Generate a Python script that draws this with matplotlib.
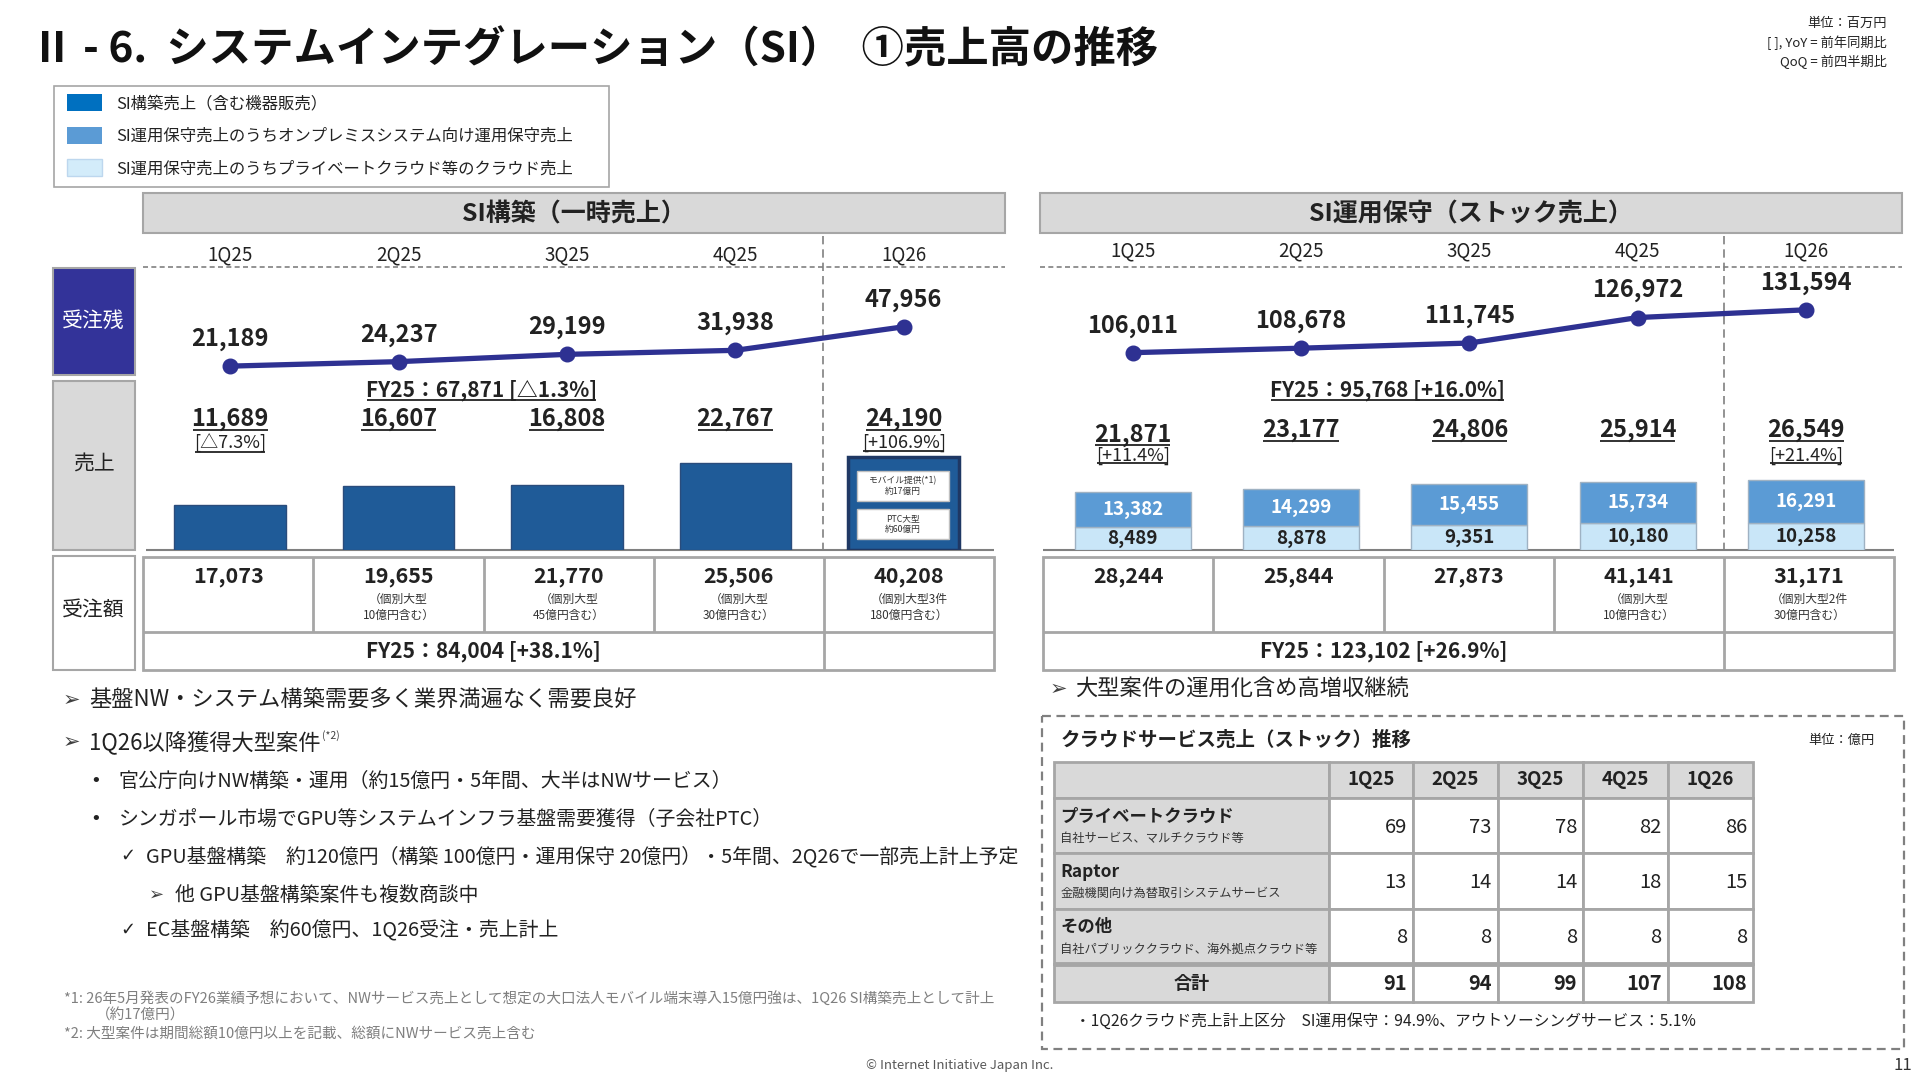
import matplotlib
matplotlib.use('Agg')
import matplotlib.pyplot as plt
from matplotlib.patches import Rectangle

plt.rcParams['font.family'] = ['Noto Sans CJK JP', 'DejaVu Sans']

# ---------------- data ----------------
quarters = ['1Q25', '2Q25', '3Q25', '4Q25', '1Q26']

si_backlog = [21189, 24237, 29199, 31938, 47956]
si_sales = [11689, 16607, 16808, 22767, 24190]
si_sales_yoy = ['[△7.3%]', '', '', '', '[+106.9%]']
si_orders = [17073, 19655, 21770, 25506, 40208]
si_orders_note = ['', '（個別大型\n10億円含む）', '（個別大型\n45億円含む）',
                  '（個別大型\n30億円含む）', '（個別大型3件\n180億円含む）']
si_fy25_sales = 'FY25：67,871 [△1.3%]'
si_fy25_orders = 'FY25：84,004 [+38.1%]'
si_inset_notes = ['モバイル提供(*1)\n約17億円', 'PTC大型\n約60億円']

om_backlog = [106011, 108678, 111745, 126972, 131594]
om_onprem = [13382, 14299, 15455, 15734, 16291]
om_cloud = [8489, 8878, 9351, 10180, 10258]
om_sales = [21871, 23177, 24806, 25914, 26549]
om_sales_yoy = ['[+11.4%]', '', '', '', '[+21.4%]']
om_orders = [28244, 25844, 27873, 41141, 31171]
om_orders_note = ['', '', '', '（個別大型\n10億円含む）', '（個別大型2件\n30億円含む）']
om_fy25_sales = 'FY25：95,768 [+16.0%]'
om_fy25_orders = 'FY25：123,102 [+26.9%]'

legend_labels = ['SI構築売上（含む機器販売）',
                 'SI運用保守売上のうちオンプレミスシステム向け運用保守売上',
                 'SI運用保守売上のうちプライベートクラウド等のクラウド売上']

cloud_rows = ['プライベートクラウド', 'Raptor', 'その他']
cloud_subs = ['自社サービス、マルチクラウド等', '金融機関向け為替取引システムサービス',
              '自社パブリッククラウド、海外拠点クラウド等']
cloud_private = [69, 73, 78, 82, 86]
cloud_raptor = [13, 14, 14, 18, 15]
cloud_other = [8, 8, 8, 8, 8]
cloud_total = [91, 94, 99, 107, 108]

# ---------------- colors ----------------
C_SI = '#1F5B98'
C_ONPREM = '#5B9BD5'
C_CLOUD = '#C9E6F8'
C_LINE = '#2E3192'
C_NAVY = '#333399'
C_GRAY = '#D9D9D9'
C_EDGE = '#A6A6A6'
C_TXT = '#222222'

# ---------------- canvas ----------------
W = 1568.0
H = 1081.0 * 1568.0 / 1920.0
fig = plt.figure(figsize=(19.2, 10.81), dpi=100)
ax = fig.add_axes([0, 0, 1, 1], zorder=0)
ax.set_xlim(0, W)
ax.set_ylim(H, 0)
ax.axis('off')
renderer = fig.canvas.get_renderer()
underlined = []


def T(x, y, s, size=12, weight='normal', color=C_TXT, ha='left', va='center', **kw):
    return ax.text(x, y, s, fontsize=size, fontweight=weight, color=color,
                   ha=ha, va=va, **kw)


def R(x0, y0, x1, y1, fc='none', ec=C_EDGE, lw=1.5, ls='-', z=1):
    ax.add_patch(Rectangle((x0, y0), x1 - x0, y1 - y0, facecolor=fc, edgecolor=ec,
                           linewidth=lw, linestyle=ls, zorder=z))


def L(xs, ys, color=C_EDGE, lw=1.5, ls='-', z=2):
    ax.plot(xs, ys, color=color, lw=lw, ls=ls, zorder=z, solid_capstyle='butt')


def rect_axes(x0, y0, x1, y1, z):
    a = fig.add_axes([x0 / W, 1 - y1 / H, (x1 - x0) / W, (y1 - y0) / H], zorder=z)
    a.patch.set_alpha(0)
    a.axis('off')
    return a


# ---------------- title & notes ----------------
T(25, 41, 'Ⅱ - 6.  システムインテグレーション（SI）  ①売上高の推移', 30.5, 'bold', '#111111')
T(1541, 19, '単位：百万円', 9.5, ha='right')
T(1541, 35, '[ ], YoY = 前年同期比', 9.5, ha='right')
T(1541, 51, 'QoQ = 前四半期比', 9.5, ha='right')

# legend
R(44, 70, 497, 153, fc='white', ec=C_EDGE, lw=1.2)
for k, (lab, col) in enumerate(zip(legend_labels, ['#0070C0', C_ONPREM, '#D3ECFA'])):
    yy = 84 + 26.5 * k
    R(55, yy - 7, 83, yy + 7, fc=col, ec='#BDD7EE' if k == 2 else 'none', lw=1)
    T(95, yy + 1, lab, 11.8)

# panel headers
R(117, 158, 821, 190, fc=C_GRAY, ec=C_EDGE)
T(469, 175, 'SI構築（一時売上）', 18, 'bold', ha='center')
R(849, 158, 1553, 190, fc=C_GRAY, ec=C_EDGE)
T(1201, 175, 'SI運用保守（ストック売上）', 18, 'bold', ha='center')

D = 137.5
L_C0, R_C0 = 188.0, 925.0

# quarter labels & dashed guide lines
for i, q in enumerate(quarters):
    T(L_C0 + D * i, 208, q, 13.5, ha='center')
    T(R_C0 + D * i, 205, q, 13.5, ha='center')
L([117, 821], [218, 218], '#808080', 1.2, (0, (3, 2)))
L([849, 1553], [218, 218], '#808080', 1.2, (0, (3, 2)))
L([672, 672], [193, 451], '#808080', 1.2, (0, (5, 3)))
L([1408, 1408], [193, 451], '#808080', 1.2, (0, (5, 3)))

# row label boxes (left)
R(43, 219, 110, 306, fc=C_NAVY, ec=C_EDGE)
T(76.5, 262, '受注残', 15, color='white', ha='center')
R(43, 311, 110, 449, fc=C_GRAY, ec=C_EDGE)
T(76.5, 379, '売上', 15, ha='center')
R(43, 454, 110, 547, fc='white', ec=C_EDGE)
T(76.5, 498, '受注額', 15, ha='center')

# baselines
L([119, 812], [449.5, 449.5], '#808080', 1.5)
L([852, 1547], [449.5, 449.5], '#808080', 1.5)

xs = list(range(len(quarters)))


def cat_xlim(x0, x1, c0):
    return ((x0 - c0) / D, (x1 - c0) / D)


# ---------------- SI construction bars ----------------
axL = rect_axes(117, 219, 812, 449, 2)
axL.set_xlim(*cat_xlim(117, 812, L_C0))
axL.set_ylim(0, (449 - 219) / 0.00313)
bars = axL.bar(xs, si_sales, width=0.662, color=C_SI, edgecolor='#2A4C7C', linewidth=1)
bars[-1].set_edgecolor('#1F3864')
bars[-1].set_linewidth(2.5)
for k, note in enumerate(si_inset_notes):
    y0 = 385 + 31 * k
    axL.add_patch(Rectangle((700, y0), 75, 24, facecolor='white', edgecolor='#BFBFBF',
                            linewidth=1, transform=ax.transData, clip_on=False, zorder=5))
    axL.text(737.5, y0 + 12, note, fontsize=6.3, ha='center', va='center', color='#333333',
             linespacing=1.25, transform=ax.transData, zorder=6)

# backlog line (left)
axLL = rect_axes(117, 219, 812, 449, 3)
axLL.set_xlim(*cat_xlim(117, 812, L_C0))
axLL.set_ylim(21189 + (299 - 449) / 0.0012, 21189 + (299 - 219) / 0.0012)
axLL.plot(xs, si_backlog, color=C_LINE, lw=3.8, marker='o', ms=10.5,
          solid_capstyle='round', zorder=3)
for i, v in enumerate(si_backlog):
    axLL.annotate(f'{v:,}', (i, v), xytext=(0, 19.5), textcoords='offset points',
                  ha='center', va='center', fontsize=17, fontweight='bold', color=C_TXT)

# ---------------- SI operation stacked bars ----------------
axR = rect_axes(852, 219, 1547, 449, 2)
axR.set_xlim(*cat_xlim(852, 1547, R_C0))
axR.set_ylim(0, (449 - 219) / 0.00215)
axR.bar(xs, om_cloud, width=0.69, color=C_CLOUD, edgecolor='#9FB2C3', linewidth=1)
axR.bar(xs, om_onprem, width=0.69, bottom=om_cloud, color=C_ONPREM,
        edgecolor='#9FB2C3', linewidth=1)
for i in xs:
    axR.text(i, om_cloud[i] / 2, f'{om_cloud[i]:,}', ha='center', va='center',
             fontsize=13.5, fontweight='bold', color=C_TXT)
    axR.text(i, om_cloud[i] + om_onprem[i] / 2, f'{om_onprem[i]:,}', ha='center',
             va='center', fontsize=13.5, fontweight='bold', color='white')

axRL = rect_axes(852, 219, 1547, 449, 3)
axRL.set_xlim(*cat_xlim(852, 1547, R_C0))
axRL.set_ylim(106011 + (288 - 449) / 0.001368, 106011 + (288 - 219) / 0.001368)
axRL.plot(xs, om_backlog, color=C_LINE, lw=3.8, marker='o', ms=10.5,
          solid_capstyle='round', zorder=3)
for i, v in enumerate(om_backlog):
    axRL.annotate(f'{v:,}', (i, v), xytext=(0, 19.5), textcoords='offset points',
                  ha='center', va='center', fontsize=17, fontweight='bold', color=C_TXT)

# ---------------- sales labels ----------------
underlined.append(T(393, 319, si_fy25_sales, 15, 'bold', ha='center'))
underlined.append(T(1133, 319, om_fy25_sales, 15, 'bold', ha='center'))
for i in xs:
    underlined.append(T(L_C0 + D * i, 342, f'{si_sales[i]:,}', 17, 'bold', ha='center'))
    if si_sales_yoy[i]:
        underlined.append(T(L_C0 + D * i, 362, si_sales_yoy[i], 13, ha='center'))
    yv = 355 if i == 0 else 351
    underlined.append(T(R_C0 + D * i, yv, f'{om_sales[i]:,}', 17, 'bold', ha='center'))
    if om_sales_yoy[i]:
        underlined.append(T(R_C0 + D * i, 372, om_sales_yoy[i], 13, ha='center'))


# ---------------- orders tables ----------------
def orders_table(x0, x1, vals, notes, fy):
    cw = (x1 - x0) / 5
    R(x0, 455, x1, 547, ec=C_EDGE, lw=2)
    L([x0, x1], [516, 516], C_EDGE, 2)
    for k in range(1, 5):
        L([x0 + cw * k, x0 + cw * k], [455, 516], C_EDGE, 2)
    L([x0 + cw * 4, x0 + cw * 4], [516, 547], C_EDGE, 2)
    for k, (v, n) in enumerate(zip(vals, notes)):
        cx = x0 + cw * (k + 0.5)
        T(cx, 471, f'{v:,}', 15.5, 'bold', ha='center')
        if n:
            T(cx, 496, n, 8.5, ha='center', linespacing=1.3, color='#333333')
    T(x0 + cw * 2, 532, fy, 15, 'bold', ha='center')


orders_table(117, 812, si_orders, si_orders_note, si_fy25_orders)
orders_table(852, 1547, om_orders, om_orders_note, om_fy25_orders)

# ---------------- bullet text ----------------
ARW = ['DejaVu Sans']
AC = '#404040'
T(51, 572, '➢', 15, color=AC, family=ARW)
T(73, 572, '基盤NW・システム構築需要多く業界満遍なく需要良好', 16)
T(51, 606, '➢', 15, color=AC, family=ARW)
t2 = T(73, 606, '1Q26以降獲得大型案件', 16)
bb = t2.get_window_extent(renderer).transformed(ax.transData.inverted())
T(max(bb.x0, bb.x1) + 1, 601, '(*2)', 7.5, color=AC)
T(74, 638, '•', 13, family=ARW)
T(97, 638, '官公庁向けNW構築・運用（約15億円・5年間、大半はNWサービス）', 14.3)
T(74, 669, '•', 13, family=ARW)
T(97, 669, 'シンガポール市場でGPU等システムインフラ基盤需要獲得（子会社PTC）', 14.3)
T(98, 699, '✓', 13, family=ARW)
T(119, 700, 'GPU基盤構築　約120億円（構築 100億円・運用保守 20億円）・5年間、2Q26で一部売上計上予定', 14.3)
T(122, 731, '➢', 13, color=AC, family=ARW)
T(143, 731, '他 GPU基盤構築案件も複数商談中', 14.3)
T(98, 759, '✓', 13, family=ARW)
T(119, 760, 'EC基盤構築　約60億円、1Q26受注・売上計上', 14.3)

FN = '#7F7F7F'
T(52, 815, '*1: 26年5月発表のFY26業績予想において、NWサービス売上として想定の大口法人モバイル端末導入15億円強は、1Q26 SI構築売上として計上', 10.5, color=FN)
T(78, 829, '（約17億円）', 10.5, color=FN)
T(52, 844, '*2: 大型案件は期間総額10億円以上を記載、総額にNWサービス売上含む', 10.5, color=FN)

T(857, 563, '➢', 15, color=AC, family=ARW)
T(878, 563, '大型案件の運用化含め高増収継続', 16)

# ---------------- cloud box ----------------
R(851, 585, 1555, 857, ec='#808080', lw=1.6, ls=(0, (4, 2.5)))
T(866, 604, 'クラウドサービス売上（ストック）推移', 14, 'bold')
T(1531, 605, '単位：億円', 9.5, ha='right')

cx = [861, 1085, 1154, 1223, 1293, 1362, 1432]
ry = [622, 652, 697, 742, 787, 818]
cloud_vals = [cloud_private, cloud_raptor, cloud_other]
for r in range(5):
    for c in range(6):
        gray = (r == 0) or (c == 0)
        R(cx[c], ry[r], cx[c + 1], ry[r + 1], fc=C_GRAY if gray else 'white', ec=C_EDGE, lw=2)
L([861, 1432], [787, 787], C_EDGE, 3.5, z=3)
for c, q in enumerate(quarters):
    T((cx[c + 1] + cx[c + 2]) / 2, 637, q, 13.5, 'bold', ha='center')
for r in range(3):
    y0, y1 = ry[r + 1], ry[r + 2]
    T(866, y0 + 15, cloud_rows[r], 12.5, 'bold')
    T(866, y0 + 33, cloud_subs[r], 8.8, color='#333333')
    for c in range(5):
        T(cx[c + 2] - 5, (y0 + y1) / 2 + 1, f'{cloud_vals[r][c]}', 14.5, ha='right')
T(973, 803, '合計', 13, 'bold', ha='center')
for c in range(5):
    T(cx[c + 2] - 5, 803, f'{cloud_total[c]}', 14.5, 'bold', ha='right')
T(878, 834, '・1Q26クラウド売上計上区分　SI運用保守：94.9%、アウトソーシングサービス：5.1%', 11.3)

# footer
T(784, 870, '© Internet Initiative Japan Inc.', 9.5, color='#595959', ha='center')
T(1562, 870, '11', 12, color='#333333', ha='right')

# ---------------- underlines ----------------
inv = ax.transData.inverted()
for t in underlined:
    bb = t.get_window_extent(renderer)
    (x0, y0), (x1, y1) = inv.transform([(bb.x0, bb.y0), (bb.x1, bb.y1)])
    yb = max(y0, y1) - 1.0
    L([x0 + 1, x1 - 1], [yb, yb], C_TXT, 1.3, z=4)

fig.savefig('out.png', dpi=100)
